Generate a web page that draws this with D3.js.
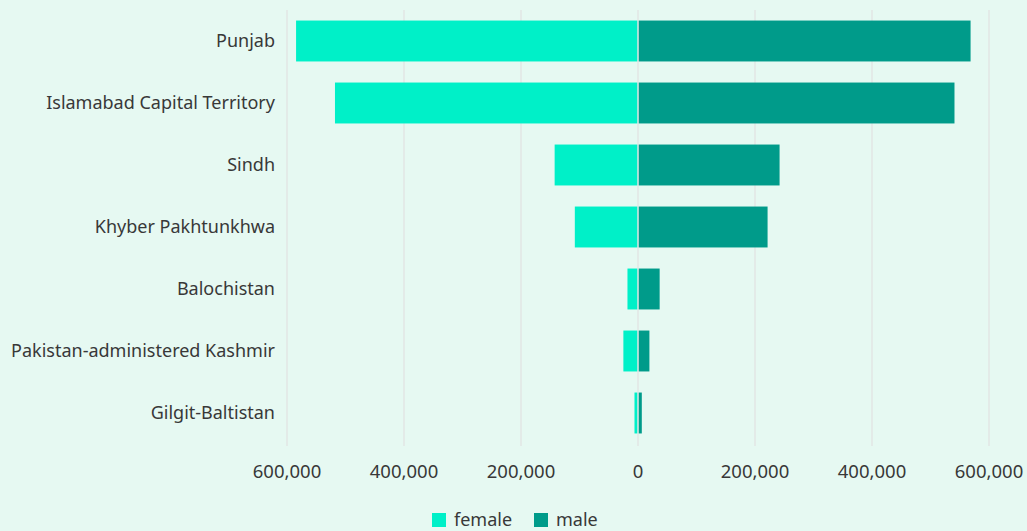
<!DOCTYPE html>
<html>
<head>
<meta charset="utf-8">
<script src="https://cdn.jsdelivr.net/npm/d3@7"></script>
<style>
  body { margin: 0; background: #e6f9f2; }
  text { font-family: "Noto Sans", sans-serif; fill: #383838; }
</style>
</head>
<body>
<div class="chart"></div>
<script>
const regions = ["Punjab", "Islamabad Capital Territory", "Sindh", "Khyber Pakhtunkhwa",
  "Balochistan", "Pakistan-administered Kashmir", "Gilgit-Baltistan"];
const female = [584500, 518000, 142500, 108000, 18000, 25000, 6000];
const male = [568500, 541000, 242000, 221500, 37000, 19500, 6500];
const ticks = [-600000, -400000, -200000, 0, 200000, 400000, 600000];
const seriesNames = ["female", "male"];
const colors = ["#00f0c8", "#009b8a"];

const W = 1027, H = 531;
const margin = { top: 10, right: 38, bottom: 87, left: 287 };
const w = W - margin.left - margin.right;
const h = H - margin.top - margin.bottom;

const svg = d3.select(".chart").append("svg")
  .attr("width", W)
  .attr("height", H)
  .append("g")
  .attr("transform", "translate(" + margin.left + "," + margin.top + ")");

const x = d3.scaleLinear().domain([-600000, 600000]).range([0, w]);
const y = d3.scaleBand().domain(regions).range([0, h]).paddingInner(0.34).paddingOuter(0.17);

const fmt = d3.format(",");

// grid lines
svg.selectAll(".grid")
  .data(ticks.filter(d => d !== 0))
  .enter().append("line")
  .attr("x1", d => x(d)).attr("x2", d => x(d))
  .attr("y1", 0).attr("y2", h + 2)
  .attr("stroke", "#e2e6e4").attr("stroke-width", 1.5);

// bars
svg.selectAll(".f")
  .data(regions)
  .enter().append("rect")
  .attr("x", (d, i) => x(-female[i]))
  .attr("width", (d, i) => x(0) - x(-female[i]))
  .attr("y", d => y(d))
  .attr("height", y.bandwidth())
  .attr("fill", colors[0]);

svg.selectAll(".m")
  .data(regions)
  .enter().append("rect")
  .attr("x", x(0))
  .attr("width", (d, i) => x(male[i]) - x(0))
  .attr("y", d => y(d))
  .attr("height", y.bandwidth())
  .attr("fill", colors[1]);

// zero line on top
svg.append("line")
  .attr("x1", x(0)).attr("x2", x(0))
  .attr("y1", 0).attr("y2", h + 2)
  .attr("stroke", "#e2e6e4").attr("stroke-width", 1.5);

// x axis labels
svg.selectAll(".xl")
  .data(ticks)
  .enter().append("text")
  .attr("x", d => x(d))
  .attr("y", h + 34)
  .attr("text-anchor", "middle")
  .attr("font-size", 18.5)
  .text(d => fmt(Math.abs(d)));

// y labels
svg.selectAll(".yl")
  .data(regions)
  .enter().append("text")
  .attr("x", -12)
  .attr("y", d => y(d) + y.bandwidth() / 2)
  .attr("dy", "0.35em")
  .attr("text-anchor", "end")
  .attr("font-size", 18)
  .text(d => d);

// legend
const legend = d3.select("svg").append("g").attr("transform", "translate(432,513)");
const lx = [0, 102];
seriesNames.forEach((s, i) => {
  legend.append("rect").attr("x", lx[i]).attr("y", 0).attr("width", 14).attr("height", 14).attr("fill", colors[i]);
  legend.append("text").attr("x", lx[i] + 22).attr("y", 13).attr("font-size", 18).text(s);
});
</script>
</body>
</html>
